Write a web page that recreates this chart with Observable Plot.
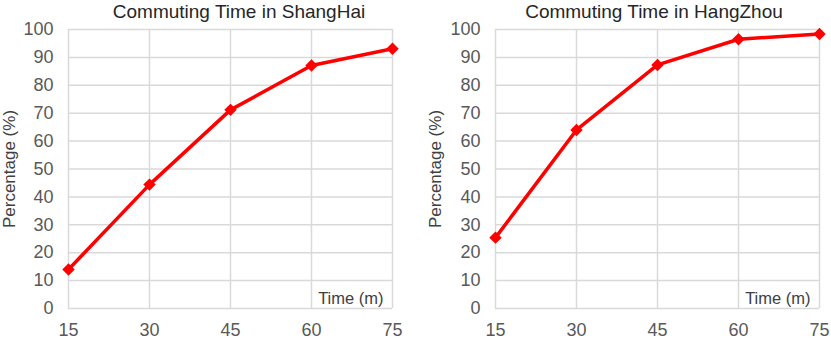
<!DOCTYPE html>
<html>
<head>
<meta charset="utf-8">
<script src="https://cdn.jsdelivr.net/npm/d3@7"></script>
<script src="https://cdn.jsdelivr.net/npm/@observablehq/plot@0.6"></script>
<style>
  html, body { margin: 0; padding: 0; background: #fff; }
  #wrap { position: relative; width: 831px; height: 341px; overflow: hidden; }
  .panel { position: absolute; top: 0; height: 341px; }
  .title { box-sizing: border-box; height: 24px; line-height: 24px; text-align: center;
           font-family: "Liberation Sans", Arial, sans-serif; font-size: 19px; color: #262626; white-space: nowrap; }
  svg { overflow: visible; }
</style>
</head>
<body>
<div id="wrap"></div>
<script>
const times = [15, 30, 45, 60, 75];
const shanghai = [14.0, 44.4, 71.2, 87.1, 93.1];
const hangzhou = [25.4, 64.0, 87.3, 96.5, 98.4];
const titles = ["Commuting Time in ShangHai", "Commuting Time in HangZhou"];
const yTicks = [0, 10, 20, 30, 40, 50, 60, 70, 80, 90, 100];
const yLabel = "Percentage (%)";
const xLabel = "Time (m)";

const panels = [
  {values: shanghai, title: titles[0], left: 0, width: 415, marginLeft: 68, marginRight: 23, labelDx: -58.5, pad: 63},
  {values: hangzhou, title: titles[1], left: 415, width: 416, marginLeft: 80, marginRight: 12, labelDx: -60, pad: 62}
];

const wrap = document.getElementById("wrap");
for (const p of panels) {
  const data = times.map((t, i) => ({time: t, pct: p.values[i]}));
  const div = document.createElement("div");
  div.className = "panel";
  div.style.left = p.left + "px";
  div.style.width = p.width + "px";
  const t = document.createElement("div");
  t.className = "title";
  t.style.paddingLeft = p.pad + "px";
  t.textContent = p.title;
  div.appendChild(t);
  const chart = Plot.plot({
    width: p.width,
    height: 317,
    marginTop: 5,
    marginBottom: 33,
    marginLeft: p.marginLeft,
    marginRight: p.marginRight,
    style: {background: "transparent", fontFamily: "Liberation Sans, Arial, sans-serif", overflow: "visible"},
    x: {domain: [15, 75], ticks: times},
    y: {domain: [0, 100], ticks: yTicks},
    marks: [
      Plot.gridX(times, {stroke: "#d9d9d9", strokeOpacity: 1, strokeWidth: 1.5}),
      Plot.gridY(yTicks, {stroke: "#d9d9d9", strokeOpacity: 1, strokeWidth: 1.5}),
      Plot.axisX(times, {tickSize: 0, tickPadding: 15, fontSize: 18, fill: "#595959", label: null}),
      Plot.axisY(yTicks, {tickSize: 0, tickPadding: 15, fontSize: 18, fill: "#595959", label: null}),
      Plot.text([yLabel], {frameAnchor: "left", rotate: -90, textAnchor: "middle", lineAnchor: "middle",
        dx: p.labelDx, fontSize: 17, fill: "#404040"}),
      Plot.text([xLabel], {frameAnchor: "bottom-right", textAnchor: "end", lineAnchor: "bottom",
        dx: -9, dy: -5, fontSize: 16.5, fill: "#404040"}),
      Plot.line(data, {x: "time", y: "pct", stroke: "#ff0000", strokeWidth: 3.5}),
      Plot.dot(data, {x: "time", y: "pct", symbol: "diamond2", r: 5.6, fill: "#ff0000", stroke: "none"})
    ]
  });
  div.appendChild(chart);
  wrap.appendChild(div);
}
</script>
</body>
</html>
